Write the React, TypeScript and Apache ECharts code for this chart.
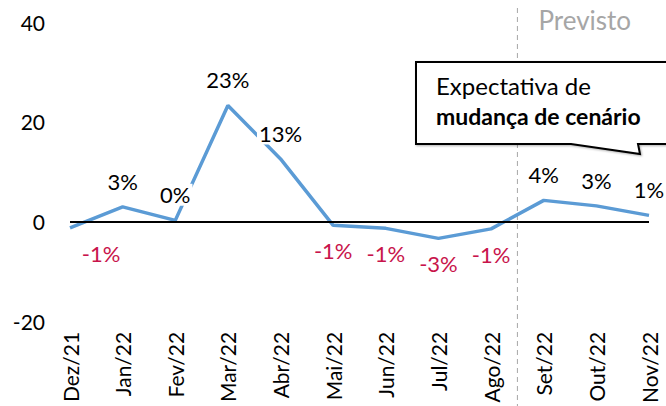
import React, { useEffect, useRef } from "react";
import * as echarts from "echarts";

const categories = ["Dez/21", "Jan/22", "Fev/22", "Mar/22", "Abr/22", "Mai/22", "Jun/22", "Jul/22", "Ago/22", "Set/22", "Out/22", "Nov/22"];
const values = [-1.2, 3.0, 0.3, 23.3, 12.6, -0.7, -1.3, -3.3, -1.4, 4.3, 3.2, 1.3];
const yMin = -20;
const yMax = 40;
const yInterval = 20;
const forecastStartIndex = 9;
const forecastLabel = "Previsto";
const calloutLine1 = "Expectativa de";
const calloutLine2 = "mudança de cenário";

const FONT = "Lato";

export default function App() {
  const ref = useRef<HTMLDivElement>(null);
  useEffect(() => {
    if (!ref.current) return;
    const chart = echarts.init(ref.current, null, { renderer: "svg" });
    const data = values.map((v) => {
      const neg = v < 0;
      return {
        value: v,
        label: {
          show: true,
          position: neg ? "bottom" : "top",
          color: neg ? "#C8144B" : "#000000",
        },
      };
    });
    chart.setOption({
      animation: false,
      grid: { left: 70, right: 17, top: 22, bottom: 83 },
      xAxis: {
        type: "category",
        data: categories,
        boundaryGap: false,
        axisLine: { show: false, onZero: false },
        axisTick: { show: false },
        axisLabel: { rotate: 90, margin: 10, fontSize: 21, color: "#000", fontFamily: FONT, interval: 0 },
        splitLine: { show: false },
      },
      yAxis: {
        type: "value",
        min: yMin,
        max: yMax,
        interval: yInterval,
        axisLine: { show: false },
        axisTick: { show: false },
        splitLine: { show: false },
        axisLabel: { fontSize: 21, color: "#000", fontFamily: FONT, margin: 25 },
      },
      series: [
        {
          type: "line",
          data,
          symbol: "circle",
          symbolSize: 1,
          showSymbol: true,
          itemStyle: { color: "rgba(0,0,0,0)" },
          lineStyle: { color: "#5B9BD5", width: 3.5 },
          label: {
            show: true,
            distance: 14,
            fontSize: 22,
            fontFamily: FONT,
            backgroundColor: "#fff",
            padding: [0, 2],
            formatter: (p: any) => `${Math.round(p.value)}%`,
          },
          labelLayout: (p: any) => (p.dataIndex === 0 ? { dx: 31, hideOverlap: false } : { hideOverlap: false }),
          markLine: {
            silent: true,
            symbol: "none",
            label: { show: false },
            lineStyle: { color: "#000", width: 2, type: "solid" },
            data: [{ yAxis: 0 }],
          },
          z: 3,
        },
      ],
    });
    const xa = chart.convertToPixel({ xAxisIndex: 0 }, categories[forecastStartIndex - 1]) as number;
    const xb = chart.convertToPixel({ xAxisIndex: 0 }, categories[forecastStartIndex]) as number;
    const sepX = (xa + xb) / 2;
    chart.setOption({
      graphic: [
        {
          type: "line",
          shape: { x1: sepX, y1: 8, x2: sepX, y2: 406 },
          style: { stroke: "#A6A6A6", lineWidth: 1, lineDash: [5, 4] },
          z: 1,
        },
        {
          type: "text",
          left: sepX + 21,
          top: 7,
          style: { text: forecastLabel, fill: "#A6A6A6", fontSize: 26, fontFamily: FONT },
          z: 5,
        },
        {
          type: "polygon",
          shape: {
            points: [
              [416, 62],
              [668, 62],
              [668, 144],
              [638, 144],
              [640, 154],
              [571, 144],
              [416, 144],
            ],
          },
          style: { fill: "#fff", stroke: "#000", lineWidth: 2, shadowBlur: 2, shadowColor: "rgba(0,0,0,0.3)", shadowOffsetX: 1, shadowOffsetY: 1 },
          z: 10,
        },
        {
          type: "text",
          left: 436,
          top: 73,
          style: { text: calloutLine1, fill: "#000", fontSize: 24, fontFamily: FONT },
          z: 11,
        },
        {
          type: "text",
          left: 436,
          top: 104,
          style: { text: calloutLine2, fill: "#000", fontSize: 23, fontWeight: "bold", fontFamily: FONT },
          z: 11,
        },
      ],
    });
    return () => chart.dispose();
  }, []);
  return <div ref={ref} style={{ width: 666, height: 406, position: "absolute", left: 0, top: 0 }} />;
}
